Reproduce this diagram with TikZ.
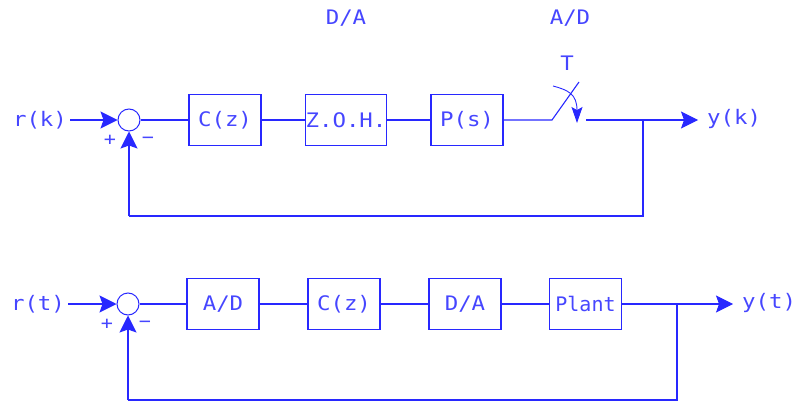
\documentclass[tikz,border=0pt]{standalone}
\usepackage{fontspec}
\newfontfamily\cadfont[FakeStretch=1.12]{DejaVu Sans Mono}
\newfontfamily\cadnarrow[FakeStretch=1.0]{DejaVu Sans Mono}
\usetikzlibrary{arrows.meta}
\definecolor{cadblue}{RGB}{40,40,255}
\definecolor{cadtext}{RGB}{70,70,255}
\begin{document}
\begin{tikzpicture}[x=1pt,y=-1pt]
\tikzset{
  blk/.style={draw=cadblue, line width=1.1pt, minimum width=72pt, minimum height=51pt,
    inner sep=0pt, font=\cadfont\fontsize{20}{20}\selectfont, text=cadtext},
  sumj/.style={circle, draw=cadblue, line width=1pt, minimum size=22pt, inner sep=0pt},
  lbl/.style={font=\cadfont\fontsize{20}{20}\selectfont, text=cadtext, inner sep=0pt},
  sgn/.style={font=\cadfont\fontsize{18}{18}\selectfont, text=cadtext, inner sep=0pt},
  wire/.style={draw=cadblue, line width=1.1pt},
  sig/.style={wire, -{Stealth[length=17pt,width=17pt,inset=3pt]}},
}
\useasboundingbox (0,0) rectangle (800,404);

% ---------- sampled-data loop: r(k) -> y(k) ----------
\node[lbl] (rk) at (40,120) {r(k)};
\node[sumj] (s1) at (129,120) {};
\node[blk] (cz1) at (225,120) {C(z)};
\node[blk] (zoh) at (346,120) {Z.O.H.};
\node[blk] (ps) at (467,120) {P(s)};
\node[lbl] (da1) at (346,18) {D/A};
\node[lbl] (ad1) at (570,18) {A/D};
\node[lbl] (tT) at (567,63) {T};
\node[lbl, anchor=west] (yk) at (707,119) {y(k)};
\node[sgn] (p1) at (110,140) {+};
\node[sgn] (m1) at (148,140) {\textminus};

\coordinate (swA) at (552,120);
\coordinate (swB) at (579,82);
\coordinate (swC) at (586,120);
\coordinate (arcS) at (553,86);
\coordinate (arcE) at (577,123);
\coordinate (tap1) at (643,120);
\coordinate (out1) at (698,120);
\coordinate (fb1) at (643,216);
\coordinate (fb1b) at (129,216);

\draw[sig] ([xshift=3pt]rk.east) -- (s1.west);
\draw[wire] (s1.east) -- (cz1.west);
\draw[wire] (cz1.east) -- (zoh.west);
\draw[wire] (zoh.east) -- (ps.west);
\draw[wire] (ps.east) -- (swA) -- (swB);
\draw[wire, line width=0.9pt, -{Stealth[length=16pt,width=11pt,inset=3pt]}]
  (arcS) .. controls (568,90) and (577,94) .. (arcE);
\draw[sig] (swC) -- (out1);
\draw[wire] (tap1) -- (fb1) -- (fb1b);
\draw[sig] (fb1b) -- (s1.south);

% ---------- continuous loop: r(t) -> y(t) ----------
\node[lbl] (rt) at (38,304) {r(t)};
\node[sumj] (s2) at (128,304) {};
\node[blk] (ad2) at (223,304) {A/D};
\node[blk] (cz2) at (344,304) {C(z)};
\node[blk] (da2) at (465,304) {D/A};
\node[blk, font=\cadnarrow\fontsize{20}{20}\selectfont] (plant) at (585.5,304) {Plant};
\node[lbl, anchor=west] (yt) at (742,303) {y(t)};
\node[sgn] (p2) at (107,324) {+};
\node[sgn] (m2) at (145,324) {\textminus};

\coordinate (tap2) at (677,304);
\coordinate (out2) at (733,304);
\coordinate (fb2) at (677,400);
\coordinate (fb2b) at (128,400);

\draw[sig] ([xshift=3pt]rt.east) -- (s2.west);
\draw[wire] (s2.east) -- (ad2.west);
\draw[wire] (ad2.east) -- (cz2.west);
\draw[wire] (cz2.east) -- (da2.west);
\draw[wire] (da2.east) -- (plant.west);
\draw[sig] (plant.east) -- (out2);
\draw[wire] (tap2) -- (fb2) -- (fb2b);
\draw[sig] (fb2b) -- (s2.south);
\end{tikzpicture}
\end{document}
